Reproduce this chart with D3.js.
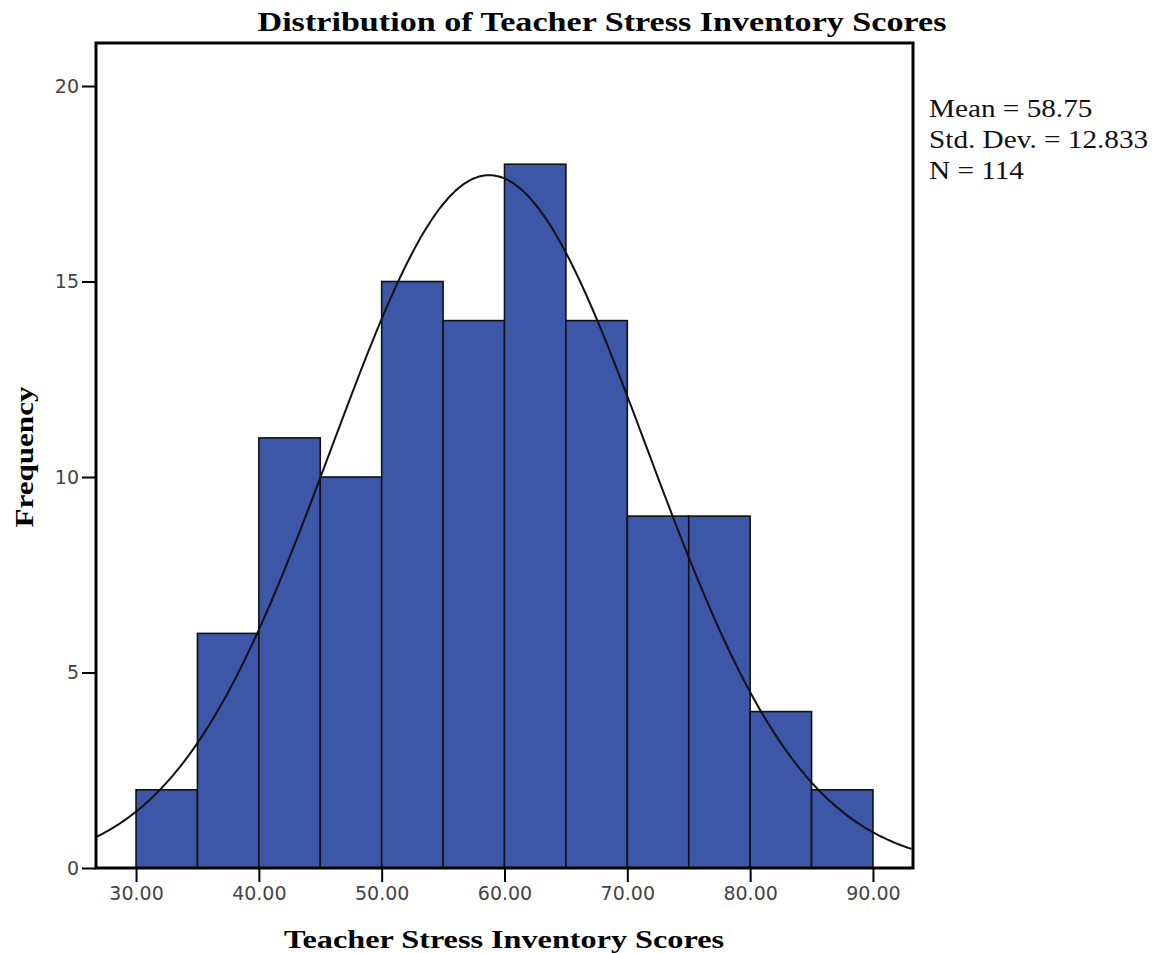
<!DOCTYPE html>
<html>
<head>
<meta charset="utf-8">
<script src="https://cdn.jsdelivr.net/npm/d3@7"></script>
<style>
  body { margin: 0; background: #fff; }
</style>
</head>
<body>
<svg width="1154" height="953"></svg>
<script>
// histogram bins (lower edges, width 5) and counts
const binStarts = [30, 35, 40, 45, 50, 55, 60, 65, 70, 75, 80, 85]
const counts = [2, 6, 11, 10, 15, 14, 18, 14, 9, 9, 4, 2]
const binWidth = 5

const xTicks = [30, 40, 50, 60, 70, 80, 90]
const yTicks = [0, 5, 10, 15, 20]

const mean = 58.75, sd = 12.833, n = 114
const statLines = ["Mean = 58.75", "Std. Dev. = 12.833", "N = 114"]

const svg = d3.select("svg")

const x = d3.scaleLinear().domain([26.74, 93.26]).range([96, 913])
const y = d3.scaleLinear().domain([0, 21.1]).range([868, 43])

const serif = "'Liberation Serif', 'DejaVu Serif', serif"
const sans = "'DejaVu Sans', Verdana, sans-serif"

// bars
svg.append("g")
    .selectAll("rect")
    .data(binStarts.map((b, i) => ({b: b, c: counts[i]})))
    .join("rect")
    .attr("x", d => x(d.b))
    .attr("y", d => y(d.c))
    .attr("width", d => x(d.b + binWidth) - x(d.b))
    .attr("height", d => y(0) - y(d.c))
    .attr("fill", "#3d57a8")
    .attr("stroke", "#111")
    .attr("stroke-width", 1.6)

// normal curve
svg.append("clipPath").attr("id", "clip")
    .append("rect").attr("x", 96).attr("y", 43).attr("width", 817).attr("height", 825)
const curvePts = d3.range(x.domain()[0], x.domain()[1] + 0.01, 0.2)
const dens = v => n * binWidth * Math.exp(-0.5 * ((v - mean) / sd) ** 2) / (sd * Math.sqrt(2 * Math.PI))
svg.append("path")
    .attr("clip-path", "url(#clip)")
    .attr("d", d3.line().x(d => x(d)).y(d => y(dens(d))).curve(d3.curveBasis)(curvePts))
    .attr("fill", "none")
    .attr("stroke", "#111")
    .attr("stroke-width", 2)

// frame
svg.append("rect")
    .attr("x", 96).attr("y", 43).attr("width", 817).attr("height", 825)
    .attr("fill", "none").attr("stroke", "#000").attr("stroke-width", 3)

// axes
const xAxis = svg.append("g")
    .attr("transform", "translate(0,868)")
    .call(d3.axisBottom(x).tickValues(xTicks).tickSize(14).tickFormat(d3.format(".2f")))
xAxis.select(".domain").remove()
xAxis.selectAll("line").attr("stroke", "#000").attr("stroke-width", 2)
xAxis.selectAll("text")
    .attr("y", 19).attr("dy", "0.71em")
    .style("font-family", sans).style("font-size", "19px").attr("fill", "#444")

const yAxis = svg.append("g")
    .attr("transform", "translate(96,0)")
    .call(d3.axisLeft(y).tickValues(yTicks).tickSize(14))
yAxis.select(".domain").remove()
yAxis.selectAll("line").attr("stroke", "#000").attr("stroke-width", 2)
yAxis.selectAll("text")
    .attr("x", -17)
    .style("font-family", sans).style("font-size", "19px").attr("fill", "#444")

// title and labels
svg.append("text")
    .attr("x", 602).attr("y", 31)
    .attr("text-anchor", "middle")
    .attr("textLength", 689).attr("lengthAdjust", "spacingAndGlyphs")
    .style("font-family", serif).style("font-weight", "bold").style("font-size", "27px")
    .text("Distribution of Teacher Stress Inventory Scores")

svg.append("text")
    .attr("x", 504).attr("y", 948)
    .attr("text-anchor", "middle")
    .attr("textLength", 440).attr("lengthAdjust", "spacingAndGlyphs")
    .style("font-family", serif).style("font-weight", "bold").style("font-size", "26px")
    .text("Teacher Stress Inventory Scores")

svg.append("text")
    .attr("transform", "translate(33,457) rotate(-90)")
    .attr("text-anchor", "middle")
    .attr("textLength", 141).attr("lengthAdjust", "spacingAndGlyphs")
    .style("font-family", serif).style("font-weight", "bold").style("font-size", "25px")
    .text("Frequency")

// stats box (stretched horizontally to match the wider original face)
svg.append("g")
    .attr("transform", "translate(929,0) scale(1.17,1)")
    .selectAll("text")
    .data(statLines)
    .join("text")
    .attr("x", 0)
    .attr("y", (d, i) => 117 + i * 31)
    .style("font-family", serif).style("font-size", "25px").attr("fill", "#111")
    .text(d => d)
</script>
</body>
</html>
